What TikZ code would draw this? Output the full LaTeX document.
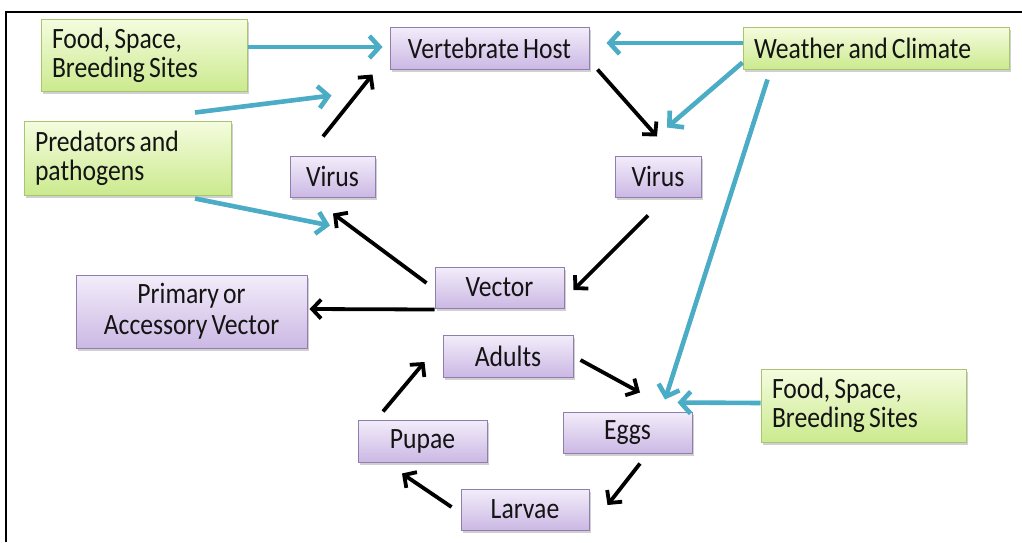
\documentclass[tikz,border=0pt]{standalone}
\usepackage{fontspec}
\setmainfont{Carlito}[FakeStretch=0.87,WordSpace=0.7]
\usetikzlibrary{arrows.meta,shadows,calc}
\definecolor{cyanarrow}{HTML}{4BACC6}
\definecolor{purtop}{HTML}{F3EDFA}
\definecolor{purbot}{HTML}{CBB8E4}
\definecolor{purline}{HTML}{8E7FAE}
\definecolor{grtop}{HTML}{F5FCDF}
\definecolor{grbot}{HTML}{CBEA8E}
\definecolor{grline}{HTML}{A8C672}
\definecolor{txt}{HTML}{141414}
\begin{document}
\begin{tikzpicture}[x=1pt,y=-1pt,
  base/.style={draw,line width=1pt,inner sep=0pt,text=txt,
    font=\fontsize{29.5}{29}\selectfont,
    drop shadow={shadow xshift=2pt,shadow yshift=-2.5pt,opacity=.3,fill=black!60}},
  pbox/.style={base,draw=purline,top color=purtop,bottom color=purbot,align=flush center},
  gbox/.style={base,draw=grline,top color=grtop,bottom color=grbot,align=flush left,inner xsep=11pt},
  barrow/.style={draw=black,line width=3.8pt,-{Straight Barb[length=9pt,width=19pt]}},
  carrow/.style={draw=cyanarrow,line width=4.6pt,-{Straight Barb[length=10pt,width=22pt]}}
]
\useasboundingbox (0,0) rectangle (1022,542);
\fill[white] (0,0) rectangle (1022,542);
\draw[line width=2pt] (1022,12) -- (6,12) -- (6,542);

% nodes
\node[gbox,minimum height=72pt,text width=184pt] (food1) at (144,55) {Food, Space,\\Breeding Sites};
\node[gbox,minimum height=74pt,text width=185pt] (pred) at (127.5,158) {Predators and\\pathogens};
\node[pbox,minimum width=199pt,minimum height=42pt] (vh) at (489.5,48) {Vertebrate Host};
\node[gbox,minimum height=42pt,text width=244pt] (wc) at (876,48) {Weather and Climate};
\node[pbox,minimum width=85pt,minimum height=41pt] (virL) at (332.5,176.5) {Virus};
\node[pbox,minimum width=86pt,minimum height=41pt] (virR) at (658,176.5) {Virus};
\node[pbox,minimum width=129pt,minimum height=41pt] (vec) at (499.5,287.5) {Vector};
\node[pbox,minimum width=231pt,minimum height=73pt,font=\fontsize{29.5}{31}\selectfont] (prim) at (191.5,311.5) {Primary or\\Accessory Vector};
\node[pbox,minimum width=130pt,minimum height=42pt] (adults) at (508,356) {Adults};
\node[pbox,minimum width=129pt,minimum height=42pt] (pupae) at (422.5,441) {Pupae};
\node[pbox,minimum width=128pt,minimum height=41pt] (larvae) at (525,509.5) {Larvae};
\node[pbox,minimum width=129pt,minimum height=41pt] (eggs) at (627.5,432.5) {Eggs};
\node[gbox,minimum height=73pt,text width=183pt] (food2) at (863.5,405.5) {Food, Space,\\Breeding Sites};

% black arrows
\draw[barrow] ([shift={(-9.5,-19)}]virL.north) -- ([shift={(-17,5)}]vh.south west);
\draw[barrow] ([shift={(8,0)}]vh.south east) -- ([shift={(-1,-19)}]virR.north);
\draw[barrow] ([shift={(-10,18)}]virR.south) -- ([shift={(9,2.5)}]vec.east);
\draw[barrow] ([shift={(-8,-4.5)}]vec.west) -- ([shift={(0.5,16)}]virL.south);
\draw[barrow] ([shift={(0,1)}]vec.south west) -- ([shift={(2,-2.5)}]prim.east);
\draw[barrow] ([shift={(7,4)}]adults.east) -- ([shift={(12.5,-19)}]eggs.north);
\draw[barrow] ([shift={(12.5,10)}]eggs.south) -- ([shift={(18,-4.5)}]larvae.east);
\draw[barrow] ([shift={(-9,-2.5)}]larvae.west) -- ([shift={(-20.5,11)}]pupae.south);
\draw[barrow] ([shift={(-39.5,-8)}]pupae.north) -- ([shift={(-18,6)}]adults.west);

% cyan arrows
\draw[carrow] ([shift={(0,-8)}]food1.east) -- ([shift={(-7,-1)}]vh.west);
\draw[carrow] ([shift={(67.5,-8)}]pred.north) -- ([shift={(-58,26)}]vh.south west);
\draw[carrow] ([shift={(67.5,3)}]pred.south) -- ([shift={(-2.5,28)}]virL.south);
\draw[carrow] ([shift={(0,-5)}]wc.west) -- ([shift={(17,-5)}]vh.east);
\draw[carrow] ([shift={(0,-7)}]wc.south west) -- ([shift={(9,-28)}]virR.north);
\draw[carrow] ([shift={(25,10)}]wc.south west) -- ([shift={(37.5,-12)}]eggs.north);
\draw[carrow] ([shift={(0,-2.5)}]food2.west) -- ([shift={(-15,-9)}]eggs.north east);
\end{tikzpicture}
\end{document}
